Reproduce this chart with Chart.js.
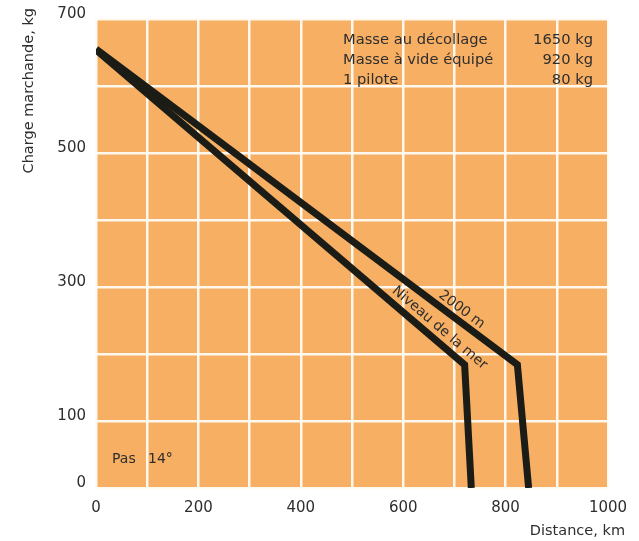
<!DOCTYPE html>
<html>
<head>
<meta charset="utf-8">
<script src="https://cdn.jsdelivr.net/npm/chart.js@4"></script>
<style>
  html, body { margin: 0; padding: 0; background: #fff; }
  #wrap { width: 639px; height: 541px; }
</style>
</head>
<body>
<div id="wrap"><canvas id="chart" width="639" height="541"></canvas></div>
<script>
// Distance (km) / charge (kg)
const seaLevelDist = [0, 720, 733];
const seaLevelLoad = [654, 184, 0];
const alt2000Dist = [0, 823, 845];
const alt2000Load = [655, 184, 0];

const xTickLabels = [0, 200, 400, 600, 800, 1000];
const yTickLabels = [0, 100, 300, 500, 700];

const massLabels = ['Masse au décollage', 'Masse à vide équipé', '1 pilote'];
const massValues = ['1650 kg', '920 kg', '80 kg'];

const toPoints = (xs, ys) => xs.map((x, i) => ({ x: x, y: ys[i] }));

const ORANGE = 'rgb(246,175,99)';
const INK = '#1c1c16';
const TEXT = '#2e2e2e';
const FONT = '"DejaVu Sans", "Liberation Sans", Arial, sans-serif';

const paperPlugin = {
    id: 'paper',
    beforeDraw(chart) {
        const ctx = chart.ctx;
        const a = chart.chartArea;
        ctx.save();
        ctx.fillStyle = '#fff';
        ctx.fillRect(0, 0, chart.width, chart.height);
        ctx.fillStyle = ORANGE;
        ctx.fillRect(a.left, a.top, a.right - a.left, a.bottom - a.top);
        ctx.restore();
    },
    afterDraw(chart) {
        const ctx = chart.ctx;
        const xs = chart.scales.x, ys = chart.scales.y;
        ctx.save();
        ctx.fillStyle = TEXT;

        // info block, top right
        ctx.font = '14.7px ' + FONT;
        ctx.textBaseline = 'middle';
        massLabels.forEach((t, i) => {
            ctx.textAlign = 'left';
            ctx.fillText(t, 343, 40 + i * 20);
            ctx.textAlign = 'right';
            ctx.fillText(massValues[i], 593, 40 + i * 20);
        });

        ctx.font = '14px ' + FONT;
        ctx.textAlign = 'left';
        ctx.fillText('Pas', 112, 459);
        ctx.fillText('14°', 148, 459);

        // axis titles
        ctx.font = '14.5px ' + FONT;
        ctx.textAlign = 'right';
        ctx.fillText('Distance, km', 625, 531);
        ctx.save();
        ctx.translate(29, 8);
        ctx.rotate(-Math.PI / 2);
        ctx.textAlign = 'right';
        ctx.fillText('Charge marchande, kg', 0, 0);
        ctx.restore();

        // curve labels, rotated along the sloping segments
        const curveLabel = (text, dist, load, xsArr, ysArr) => {
            const dx = xs.getPixelForValue(xsArr[1]) - xs.getPixelForValue(xsArr[0]);
            const dy = ys.getPixelForValue(ysArr[1]) - ys.getPixelForValue(ysArr[0]);
            ctx.save();
            ctx.translate(xs.getPixelForValue(dist), ys.getPixelForValue(load));
            ctx.rotate(Math.atan2(dy, dx));
            ctx.textAlign = 'center';
            ctx.textBaseline = 'middle';
            ctx.fillText(text, 0, 0);
            ctx.restore();
        };
        ctx.font = '14px ' + FONT;
        curveLabel('2000 m', 714, 266, alt2000Dist, alt2000Load);
        curveLabel('Niveau de la mer', 671, 239, seaLevelDist, seaLevelLoad);
        ctx.restore();
    }
};

const lineStyle = {
    borderColor: INK,
    borderWidth: 7,
    borderJoinStyle: 'miter',
    pointRadius: 0,
    tension: 0,
    fill: false
};

new Chart(document.getElementById('chart').getContext('2d'), {
    type: 'line',
    data: {
        datasets: [
            Object.assign({ label: 'Niveau de la mer', data: toPoints(seaLevelDist, seaLevelLoad) }, lineStyle),
            Object.assign({ label: '2000 m', data: toPoints(alt2000Dist, alt2000Load) }, lineStyle)
        ]
    },
    plugins: [paperPlugin],
    options: {
        responsive: false,
        animation: false,
        layout: { padding: { top: 19, right: 31, bottom: 0, left: 0 } },
        plugins: {
            legend: { display: false },
            tooltip: { enabled: false }
        },
        scales: {
            x: {
                type: 'linear',
                min: 0,
                max: 1000,
                border: { display: false },
                grid: { color: 'rgba(255,252,245,0.95)', lineWidth: 2.5, drawTicks: false },
                ticks: {
                    stepSize: 100,
                    autoSkip: false,
                    maxRotation: 0,
                    padding: 11,
                    color: TEXT,
                    font: { family: FONT, size: 15 },
                    callback: v => xTickLabels.includes(v) ? String(v) : ''
                },
                afterFit(scale) { scale.height = 53; }
            },
            y: {
                type: 'linear',
                min: 0,
                max: 700,
                border: { display: false },
                grid: { color: 'rgba(255,252,245,0.95)', lineWidth: 2.5, drawTicks: false },
                ticks: {
                    stepSize: 100,
                    autoSkip: false,
                    padding: 10,
                    labelOffset: -5,
                    color: TEXT,
                    font: { family: FONT, size: 15 },
                    callback: v => yTickLabels.includes(v) ? String(v) : ''
                },
                afterFit(scale) { scale.width = 96; }
            }
        }
    }
});
</script>
</body>
</html>
